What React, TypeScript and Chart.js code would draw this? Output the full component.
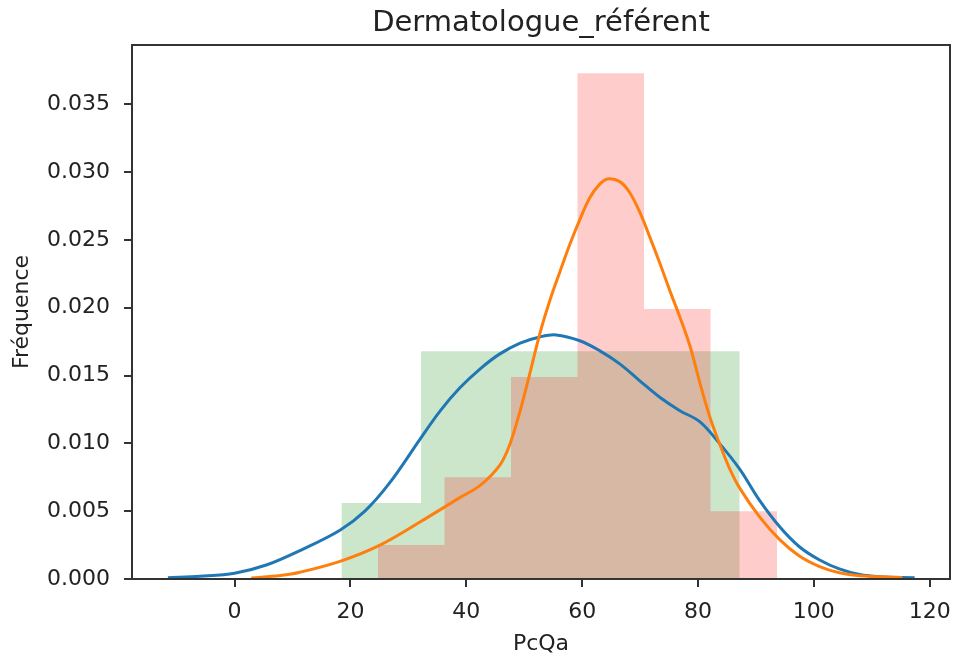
import React, { useEffect, useRef } from "react";
import { Chart, registerables } from "chart.js";

Chart.register(...registerables);

const TITLE = "Dermatologue_référent";
const X_LABEL = "PcQa";
const Y_LABEL = "Fréquence";

const xTickValues = [0, 20, 40, 60, 80, 100, 120];
const yTickValues = [0, 0.005, 0.01, 0.015, 0.02, 0.025, 0.03, 0.035];

// histogram 1 (green)
const greenEdges = [18.45, 32.2, 45.95, 59.7, 73.45, 87.2];
const greenHeights = [0.0056, 0.0168, 0.0168, 0.0168, 0.0168];

// histogram 2 (pink)
const pinkEdges = [24.76, 36.24, 47.72, 59.2, 70.68, 82.16, 93.64];
const pinkHeights = [0.0025, 0.0075, 0.0149, 0.0373, 0.0199, 0.005];

// KDE 1 (blue)
const blueKdeX = [-11.5, -5.9, 0, 5.6, 11.3, 18.2, 22.5, 26.8, 32.0, 35.5, 38.9, 42.4, 45.8, 49.3, 52.7, 55.5, 59.6, 63.0, 66.5, 69.9, 73.4, 76.8, 80.3, 83.7, 87.2, 90.6, 94.1, 97.5, 101.0, 104.4, 107.9, 111.3, 117.4];
const blueKdeY = [0.0001, 0.0002, 0.00042, 0.00105, 0.0021, 0.0036, 0.005, 0.0071, 0.0103, 0.0124, 0.0141, 0.0155, 0.0166, 0.0174, 0.01785, 0.018, 0.01757, 0.01684, 0.01586, 0.01463, 0.0134, 0.01243, 0.0116, 0.01, 0.0081, 0.00581, 0.00385, 0.00238, 0.0014, 0.00074, 0.00033, 0.00017, 0.0001];

// KDE 2 (orange)
const orangeKdeX = [2.9, 7.9, 11.3, 18.2, 25.1, 32.0, 38.9, 42.4, 45.8, 47.5, 49.3, 51.0, 52.7, 54.4, 56.2, 57.9, 59.6, 61.3, 63.0, 64.4, 66.5, 68.2, 69.9, 71.6, 73.4, 75.1, 76.8, 78.6, 80.3, 82.0, 83.7, 85.4, 87.2, 90.6, 94.1, 97.5, 101.0, 104.4, 107.9, 115.3];
const orangeKdeY = [0.00007, 0.00026, 0.0005, 0.0013, 0.0025, 0.0042, 0.006, 0.0069, 0.0084, 0.0099, 0.0124, 0.0152, 0.0181, 0.0205, 0.0227, 0.0247, 0.0265, 0.0281, 0.0291, 0.0295, 0.0293, 0.0285, 0.0271, 0.0253, 0.0233, 0.0213, 0.0194, 0.0172, 0.0145, 0.012, 0.01, 0.0082, 0.0067, 0.0046, 0.0029, 0.0017, 0.00092, 0.00046, 0.00024, 0.0001];

const X_MIN = -17.7;
const X_MAX = 123.5;
const Y_MIN = 0;
const Y_MAX = 0.039375;

function histPoints(edges: number[], heights: number[]) {
  const pts: { x: number; y: number }[] = [{ x: edges[0], y: 0 }];
  heights.forEach((h, i) => {
    pts.push({ x: edges[i], y: h });
    pts.push({ x: edges[i + 1], y: h });
  });
  pts.push({ x: edges[edges.length - 1], y: 0 });
  return pts;
}

function zip(xs: number[], ys: number[]) {
  return xs.map((x, i) => ({ x, y: ys[i] }));
}

const FONT = "'DejaVu Sans', sans-serif";
const TEXT = "#222222";
const AXIS = "#333333";

const frameTitlePlugin = {
  id: "frameTitle",
  afterDraw(chart: any) {
    const { ctx, chartArea: a } = chart;
    ctx.save();
    ctx.strokeStyle = AXIS;
    ctx.lineWidth = 2;
    ctx.strokeRect(a.left, a.top, a.right - a.left, a.bottom - a.top);
    ctx.fillStyle = TEXT;
    ctx.font = `29px ${FONT}`;
    ctx.textAlign = "center";
    ctx.textBaseline = "alphabetic";
    ctx.fillText(TITLE, (a.left + a.right) / 2, 31);
    ctx.restore();
  },
};

export default function App() {
  const ref = useRef<HTMLCanvasElement | null>(null);

  useEffect(() => {
    if (!ref.current) return;
    const chart = new Chart(ref.current, {
      type: "line",
      data: {
        datasets: [
          {
            label: "kde2",
            data: zip(orangeKdeX, orangeKdeY),
            borderColor: "#ff7f0e",
            borderWidth: 3,
            pointRadius: 0,
            fill: false,
            tension: 0.35,
            order: 0,
          },
          {
            label: "kde1",
            data: zip(blueKdeX, blueKdeY),
            borderColor: "#1f77b4",
            borderWidth: 3,
            pointRadius: 0,
            fill: false,
            tension: 0.35,
            order: 1,
          },
          {
            label: "hist2",
            data: histPoints(pinkEdges, pinkHeights),
            borderColor: "rgba(0,0,0,0)",
            borderWidth: 0,
            backgroundColor: "rgba(255,0,0,0.2)",
            pointRadius: 0,
            fill: "origin",
            tension: 0,
            order: 2,
          },
          {
            label: "hist1",
            data: histPoints(greenEdges, greenHeights),
            borderColor: "rgba(0,0,0,0)",
            borderWidth: 0,
            backgroundColor: "rgba(0,128,0,0.2)",
            pointRadius: 0,
            fill: "origin",
            tension: 0,
            order: 3,
          },
        ],
      },
      options: {
        animation: false,
        responsive: false,
        maintainAspectRatio: false,
        layout: { autoPadding: false, padding: { top: 45, right: 4, left: 0, bottom: 0 } },
        plugins: {
          legend: { display: false },
          tooltip: { enabled: false },
          title: { display: false },
        },
        scales: {
          x: {
            type: "linear",
            min: X_MIN,
            max: X_MAX,
            afterBuildTicks: (s: any) => {
              s.ticks = xTickValues.map((v) => ({ value: v }));
            },
            afterFit: (s: any) => {
              s.height = 82;
              s.paddingLeft = 0;
              s.paddingRight = 0;
            },
            grid: {
              display: true,
              drawOnChartArea: false,
              drawTicks: true,
              tickLength: 8,
              color: AXIS,
              lineWidth: 2,
            },
            border: { display: true, color: AXIS, width: 2 },
            ticks: {
              padding: 12,
              color: TEXT,
              font: { family: FONT, size: 22 },
              maxRotation: 0,
              callback: (v: any) => String(v),
            },
            title: {
              display: true,
              text: X_LABEL,
              color: TEXT,
              font: { family: FONT, size: 22 },
              padding: { top: 0, bottom: 4 },
            },
          },
          y: {
            type: "linear",
            min: Y_MIN,
            max: Y_MAX,
            afterBuildTicks: (s: any) => {
              s.ticks = yTickValues.map((v) => ({ value: v }));
            },
            afterFit: (s: any) => {
              s.width = 132;
              s.paddingTop = 0;
              s.paddingBottom = 0;
            },
            grid: {
              display: true,
              drawOnChartArea: false,
              drawTicks: true,
              tickLength: 8,
              color: AXIS,
              lineWidth: 2,
            },
            border: { display: true, color: AXIS, width: 2 },
            ticks: {
              padding: 14,
              color: TEXT,
              font: { family: FONT, size: 22 },
              callback: (v: any) => Number(v).toFixed(3),
            },
            title: {
              display: true,
              text: Y_LABEL,
              color: TEXT,
              font: { family: FONT, size: 22 },
              padding: { top: 9, bottom: 0 },
            },
          },
        },
      },
      plugins: [frameTitlePlugin],
    });
    return () => chart.destroy();
  }, []);

  return (
    <div style={{ position: "absolute", left: 0, top: 0, width: 954, height: 661, background: "#fff" }}>
      <canvas ref={ref} width={954} height={661} style={{ display: "block", width: 954, height: 661 }} />
    </div>
  );
}
